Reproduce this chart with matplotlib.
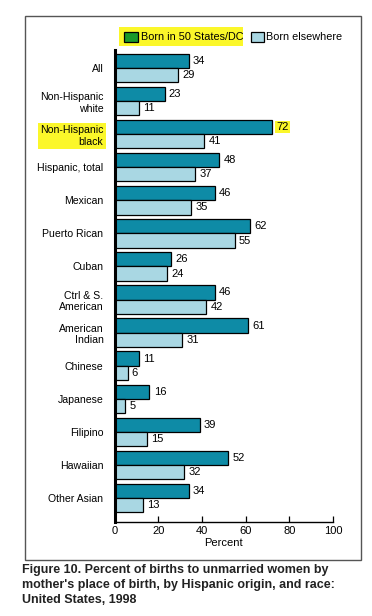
import numpy as np
import matplotlib.pyplot as plt
from matplotlib.patches import Rectangle

# data
categories = ['All', 'Non-Hispanic\nwhite', 'Non-Hispanic\nblack', 'Hispanic, total',
              'Mexican', 'Puerto Rican', 'Cuban', 'Ctrl & S.\nAmerican',
              'American\nIndian', 'Chinese', 'Japanese', 'Filipino', 'Hawaiian',
              'Other Asian']
born_us = [34, 23, 72, 48, 46, 62, 26, 46, 61, 11, 16, 39, 52, 34]
born_else = [29, 11, 41, 37, 35, 55, 24, 42, 31, 6, 5, 15, 32, 13]
xticks = [0, 20, 40, 60, 80, 100]

dark = '#0e8ba6'
light = '#a9d7e3'
hilite = '#fbf72a'

plt.rcParams['font.family'] = ['Liberation Sans', 'DejaVu Sans']
fig = plt.figure(figsize=(3.72, 6.16), dpi=100)
W, H = 372, 616

# outer frame around the chart
fig.patches.append(Rectangle((25 / W, 1 - 560 / H), 336 / W, 544 / H,
                             transform=fig.transFigure, fill=False,
                             edgecolor='#555555', linewidth=1.0))

ax = fig.add_axes([114.5 / W, 1 - 522 / H, 218.5 / W, 472 / H])
y = np.arange(len(categories))
h = 0.43
ax.barh(y - h / 2, born_us, height=h, color=dark, edgecolor='black', linewidth=0.9)
ax.barh(y + h / 2, born_else, height=h, color=light, edgecolor='black', linewidth=0.9)

for i in range(len(categories)):
    t = ax.annotate(str(born_us[i]), (born_us[i], y[i] - h / 2), xytext=(3, 0),
                    textcoords='offset points', va='center', ha='left', fontsize=8)
    if i == 2:
        t.set_bbox(dict(facecolor=hilite, edgecolor='none', pad=1))
    ax.annotate(str(born_else[i]), (born_else[i], y[i] + h / 2), xytext=(3, 0),
                textcoords='offset points', va='center', ha='left', fontsize=8)

ax.set_xlim(0, 100)
ax.set_ylim(13.725, -0.545)
ax.set_xticks(xticks)
ax.set_xticklabels([str(v) for v in xticks], fontsize=8)
ax.tick_params(axis='x', direction='in', length=4, width=0.9, pad=3)
ax.set_yticks(y)
ax.set_yticklabels(categories, fontsize=7.6, multialignment='right')
ax.tick_params(axis='y', length=0, pad=8)
ax.get_yticklabels()[2].set_bbox(dict(facecolor=hilite, edgecolor='none', pad=1.5))
ax.set_xlabel('Percent', fontsize=8, labelpad=1)
for s in ['top', 'right']:
    ax.spines[s].set_visible(False)
ax.spines['left'].set_linewidth(2.2)
ax.spines['bottom'].set_linewidth(1.0)

# legend drawn by hand so the highlight can sit behind it
fig.patches.append(Rectangle((119 / W, 1 - 46 / H), 124 / W, 19 / H,
                             transform=fig.transFigure, facecolor=hilite,
                             edgecolor='none'))
fig.patches.append(Rectangle((124 / W, 1 - 41.5 / H), 14 / W, 9 / H,
                             transform=fig.transFigure, facecolor='#1a9a2a',
                             edgecolor='black', linewidth=0.9))
fig.text(141 / W, 1 - 37 / H, 'Born in 50 States/DC', fontsize=7.8, va='center')
fig.patches.append(Rectangle((251 / W, 1 - 41.5 / H), 13 / W, 9 / H,
                             transform=fig.transFigure, facecolor=light,
                             edgecolor='black', linewidth=0.9))
fig.text(266 / W, 1 - 37 / H, 'Born elsewhere', fontsize=7.8, va='center')

fig.text(22 / W, 1 - 564 / H,
         "Figure 10. Percent of births to unmarried women by\n"
         "mother's place of birth, by Hispanic origin, and race:\n"
         "United States, 1998",
         fontsize=9.0, fontweight='bold', color='#222222', va='top', ha='left',
         linespacing=1.35)

fig.savefig('out.png', dpi=100)
